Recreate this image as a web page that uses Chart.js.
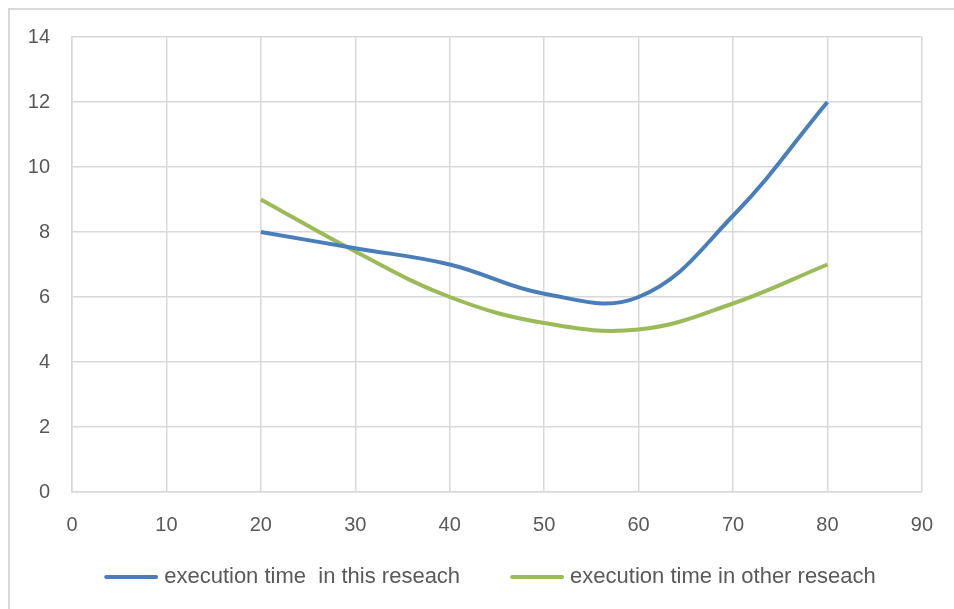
<!DOCTYPE html>
<html>
<head>
<meta charset="utf-8">
<script src="https://cdn.jsdelivr.net/npm/chart.js@4/dist/chart.umd.min.js"></script>
<style>
  html, body { margin: 0; padding: 0; background: #fff; overflow: hidden; }
  #wrap { position: relative; width: 954px; height: 609px; }
  #frame { position: absolute; left: 8px; top: 8px; width: 960px; height: 620px;
           border-left: 2px solid #d9d9d9; border-top: 2px solid #d9d9d9; box-sizing: border-box; }
  canvas { position: absolute; left: 0; top: 0; }
</style>
</head>
<body>
<div id="wrap">
  <div id="frame"></div>
  <canvas id="c" width="954" height="609"></canvas>
</div>
<script>
const xValues = [20, 30, 40, 50, 60, 70, 80];
const thisResearch = [8, 7.5, 7, 6.1, 6, 8.5, 12];
const otherResearch = [9, 7.4, 6, 5.2, 5, 5.8, 7];
const seriesNames = ['execution time  in this reseach', 'execution time in other reseach'];

const toPoints = ys => xValues.map((x, i) => ({ x: x, y: ys[i] }));
const FONT = "'Liberation Sans', Arial, sans-serif";
const FONT_SIZE = 20;
const LEGEND_SIZE = 22;
const TEXT = '#595959';
const GRID = '#d9d9d9';

// Legend drawn below the axis: a short line swatch followed by the series name
const lineLegend = {
  id: 'lineLegend',
  afterDraw(chart) {
    const ctx = chart.ctx;
    const swatch = 54, textGap = 6, itemGap = 50, centerX = 490, y = 577;
    ctx.save();
    ctx.font = LEGEND_SIZE + 'px ' + FONT;
    ctx.textBaseline = 'middle';
    ctx.textAlign = 'left';
    const items = chart.data.datasets.map(ds => ({
      ds, w: swatch + textGap + ctx.measureText(ds.label).width
    }));
    const total = items.reduce((s, it) => s + it.w, 0) + itemGap * (items.length - 1);
    let x = centerX - total / 2;
    items.forEach(it => {
      ctx.strokeStyle = it.ds.borderColor;
      ctx.lineWidth = 4;
      ctx.lineCap = 'round';
      ctx.beginPath();
      ctx.moveTo(x + 2, y);
      ctx.lineTo(x + swatch - 2, y);
      ctx.stroke();
      ctx.fillStyle = TEXT;
      ctx.fillText(it.ds.label, x + swatch + textGap, y);
      x += it.w + itemGap;
    });
    ctx.restore();
  }
};

new Chart(document.getElementById('c'), {
  type: 'line',
  data: {
    datasets: [
      { label: seriesNames[0], data: toPoints(thisResearch), borderColor: '#4a7ebb', backgroundColor: '#4a7ebb',
        borderWidth: 4, pointRadius: 0, tension: 0.4, fill: false },
      { label: seriesNames[1], data: toPoints(otherResearch), borderColor: '#9bbb59', backgroundColor: '#9bbb59',
        borderWidth: 4, pointRadius: 0, tension: 0.4, fill: false }
    ]
  },
  options: {
    responsive: false,
    animation: false,
    layout: { padding: { left: 9, right: 32, top: 37, bottom: 10 } },
    scales: {
      x: {
        type: 'linear', min: 0, max: 90,
        ticks: { stepSize: 10, color: TEXT, font: { family: FONT, size: FONT_SIZE }, padding: 21, maxRotation: 0 },
        grid: { color: GRID, lineWidth: 1.5, drawTicks: false },
        border: { color: GRID, width: 1.5 },
        afterFit: s => { s.height = 107; }
      },
      y: {
        min: 0, max: 14,
        ticks: { stepSize: 2, color: TEXT, font: { family: FONT, size: FONT_SIZE }, padding: 22 },
        grid: { color: GRID, lineWidth: 1.5, drawTicks: false },
        border: { color: GRID, width: 1.5 },
        afterFit: s => { s.width = 63; }
      }
    },
    plugins: {
      legend: { display: false },
      tooltip: { enabled: false }
    }
  },
  plugins: [lineLegend]
});
</script>
</body>
</html>
